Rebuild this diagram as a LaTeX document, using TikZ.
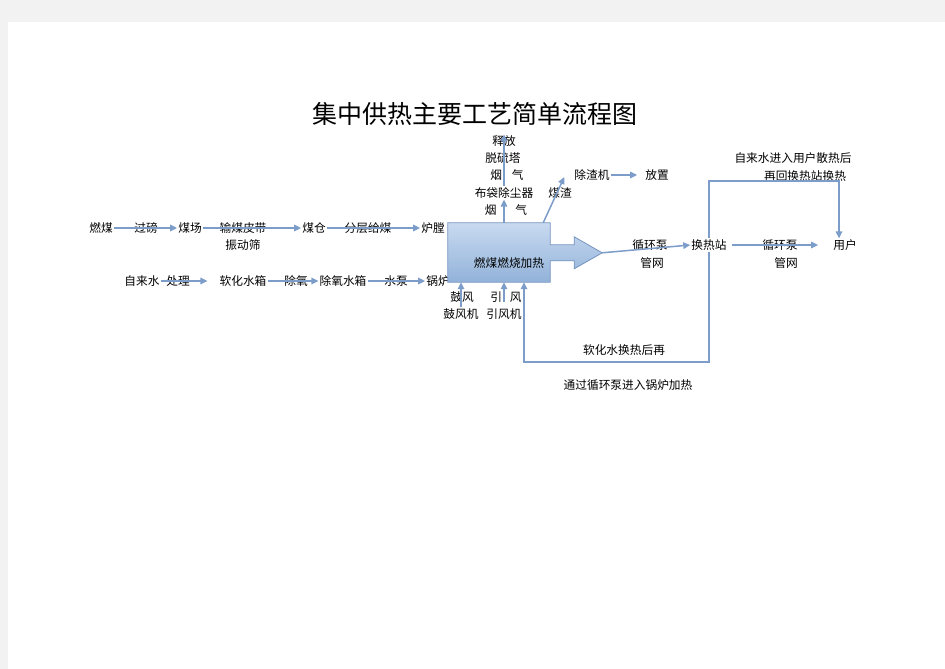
\documentclass[tikz,border=0pt]{standalone}
\usepackage{fontspec}
\newfontfamily\cjk{Noto Sans CJK SC}
\usetikzlibrary{arrows.meta}
\definecolor{c1}{RGB}{124,157,201}
\definecolor{c2}{RGB}{118,148,192}
\definecolor{c3}{RGB}{200,218,240}
\definecolor{c4}{RGB}{146,178,217}
\definecolor{c5}{RGB}{242,242,242}
\tikzstyle{flow chart}=[
    x=1pt, y=-1pt,
    every node/.style={font={\cjk\fontsize{11.7}{14}\selectfont},inner sep=1pt},
    chart title/.style={font={\cjk\fontsize{25}{30}\selectfont}},
    flow/.style={c1,line width=1.5pt,-{Triangle[length=7pt,width=6.5pt]}},
    heat box/.style={minimum width=102pt,minimum height=59pt},
    heat shape/.style={draw=c2,line width=0.8pt,top color=c3,bottom color=c4},
]

\begin{document}
\begin{tikzpicture}[flow chart]
    % page
    \fill[c5] (0,0) rectangle (945,669);
    \fill[white] (8,22) rectangle (945,669);

    \node[chart title] (title) at (475,114) {集中供热主要工艺简单流程图};

    % coal line
    \node (ranmei) at (101,228) {燃煤};
    \node (guobang) at (146,228) {过磅};
    \node (meichang) at (190,228) {煤场};
    \node (shupi) at (243,228) {输煤皮带};
    \node (zhendong) at (243,245) {振动筛};
    \node (meicang) at (314,228) {煤仓};
    \node (fenceng) at (368,228) {分层给煤};
    \node (lutang) at (433,228) {炉膛};
    \draw[flow] (ranmei.east) -- (meichang.west);
    \draw[flow] (meichang.east) -- (meicang.west);
    \draw[flow] (meicang.east) -- (lutang.west);

    % water line
    \node (zilaishui) at (142,281) {自来水};
    \node (chuli) at (178,281) {处理};
    \node (ruanhua) at (243,281) {软化水箱};
    \node (chuyang) at (296,281) {除氧};
    \node (chuyangxiang) at (343,281) {除氧水箱};
    \node (shuibeng) at (396,281) {水泵};
    \node (guolu) at (438,281) {锅炉};
    \draw[flow,shorten >=11pt] (zilaishui.east) -- (ruanhua.west);
    \draw[flow] (ruanhua.east) -- (chuyangxiang.west);
    \draw[flow] (chuyangxiang.east) -- (guolu.west);

    % boiler
    \node[heat box] (box) at (499,252.5) {};
    \shade[heat shape] (box.north west) -- (box.north east) -- ++(0,22) -- ++(24,0)
        -- ++(0,-8) -- ++(28,16) coordinate (tip) -- ++(-28,16) -- ++(0,-8)
        -- ++(-24,0) -- (box.south east) -- (box.south west) -- cycle;
    \node (burn) at (509,263) {燃煤燃烧加热};

    % flue gas
    \node (budai) at (504,193) {布袋除尘器};
    \node (yanqi1) at (506,210) {烟\hspace{19pt}气};
    \node (yanqi2) at (507,175) {烟\hspace{10pt}气};
    \node (tuoliu) at (503,158) {脱硫塔};
    \node (shifang) at (504,141) {释放};
    \draw[flow] (budai.south |- box.north) -- (budai.south);
    \draw[flow] (budai.north) -- (shifang.north);

    % slag
    \node (meizha) at (560,193) {煤渣};
    \node (chuzhaji) at (592,175) {除渣机};
    \node (fangzhi) at (657,175) {放置};
    \draw[flow] ([xshift=-7pt]box.north east) -- ([xshift=-9pt,yshift=-2pt]chuzhaji.west);
    \draw[flow,shorten >=7pt] (chuzhaji.east) -- (fangzhi.west);

    % fans
    \node (gufeng) at (462,297) {鼓风};
    \node (gufengji) at (461,314) {鼓风机};
    \node (yinfeng) at (506,297) {引\hspace{8pt}风};
    \node (yinfengji) at (504,314) {引风机};
    \draw[flow] (gufengji.north) -- (gufengji.north |- box.south);
    \draw[flow,shorten <=5pt] (yinfengji.north) -- (yinfengji.north |- box.south);

    % heat network
    \node (xunhuan1) at (650,245) {循环泵};
    \node (guanwang1) at (652,263) {管网};
    \node (huanre) at (709,245) {换热站};
    \node (xunhuan2) at (780,245) {循环泵};
    \node (guanwang2) at (786,263) {管网};
    \node (yonghu) at (845,245) {用户};
    \draw[flow] (tip) -- (huanre.west);
    \draw[flow,shorten <=4pt,shorten >=14pt] (huanre.east) -- (yonghu.west);

    \node (note1) at (793,158) {自来水进入用户散热后};
    \node (note2) at (805,176) {再回换热站换热};
    \coordinate (over) at (839,181);
    \draw[flow] (huanre.north) |- (over) -- (over |- yonghu.north);

    \node (note3) at (624,350) {软化水换热后再};
    \node (note4) at (628,385) {通过循环泵进入锅炉加热};
    \coordinate (back) at (524,362);
    \draw[flow] (huanre.south) |- (back) -- (back |- box.south);
\end{tikzpicture}
\end{document}
